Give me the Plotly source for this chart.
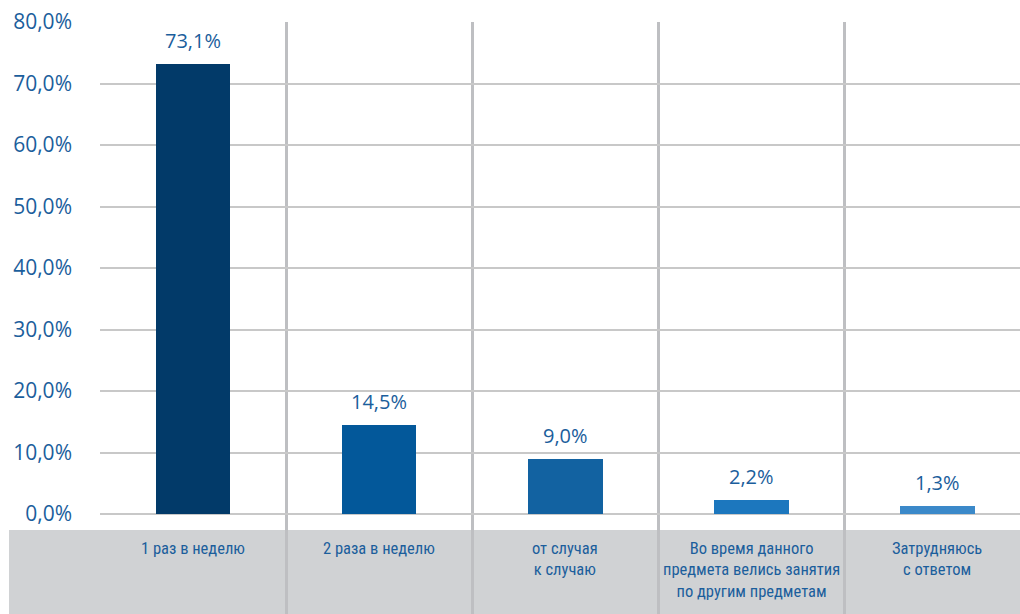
import plotly.graph_objects as go

categories = [
    "1 раз в неделю",
    "2 раза в неделю",
    "от случая<br>к случаю",
    "Во время данного<br>предмета велись занятия<br>по другим предметам",
    "Затрудняюсь<br>с ответом",
]
values = [73.1, 14.5, 9.0, 2.2, 1.3]
bar_colors = ["#023A69", "#03589A", "#1262A1", "#1C77BE", "#3B89C9"]
y_ticks = [0, 10, 20, 30, 40, 50, 60, 70, 80]

TEXT_COLOR = "#1B5E9C"
NARROW = "Roboto Condensed, Liberation Sans Narrow, Roboto, sans-serif"


def pct(v):
    return f"{v:.1f}%".replace(".", ",")


x_pos = list(range(len(categories)))

fig = go.Figure()
fig.add_trace(go.Bar(
    x=x_pos,
    y=values,
    width=0.403,
    marker=dict(color=bar_colors, line=dict(width=0)),
    hoverinfo="skip",
))

annotations = []
for i, v in enumerate(values):
    annotations.append(dict(
        x=i, y=v, xref="x", yref="y",
        text=pct(v),
        showarrow=False, yanchor="bottom", yshift=8,
        font=dict(family="Open Sans, sans-serif", size=20, color=TEXT_COLOR),
    ))
for i, c in enumerate(categories):
    annotations.append(dict(
        x=i, y=0.13, xref="x", yref="paper",
        text=c, showarrow=False, yanchor="top", align="center",
        font=dict(family=NARROW, size=16.5, color=TEXT_COLOR),
    ))

fig.update_layout(
    width=1020, height=614,
    margin=dict(l=100, r=0, t=22, b=0),
    paper_bgcolor="white",
    plot_bgcolor="rgba(0,0,0,0)",
    showlegend=False,
    bargap=0,
    annotations=annotations,
    shapes=[dict(
        type="rect", xref="paper", yref="paper",
        x0=-0.0989, x1=1.0, y0=0, y1=0.1419,
        fillcolor="#D0D2D4", line=dict(width=0), layer="below",
    )],
    xaxis=dict(
        range=[-0.5, 4.446],
        tickvals=x_pos,
        showticklabels=False,
        ticks="",
        showgrid=False,
        zeroline=False,
        showline=False,
        minor=dict(tickmode="linear", tick0=-0.5, dtick=1, showgrid=True,
                   gridcolor="#BEBFC2", gridwidth=3, ticks=""),
    ),
    yaxis=dict(
        range=[-16.26, 80],
        tickvals=y_ticks,
        ticktext=[pct(t) for t in y_ticks],
        showgrid=True,
        gridcolor="#C8C8C8",
        gridwidth=2,
        zeroline=False,
        showline=False,
        ticks="",
        ticklabelstandoff=27,
        tickfont=dict(family="Open Sans, sans-serif", size=21, color=TEXT_COLOR),
    ),
)

fig.write_html(
    "out.html",
    config={"displayModeBar": False},
    post_script="document.body.style.margin='0';document.body.style.overflow='hidden';",
)
